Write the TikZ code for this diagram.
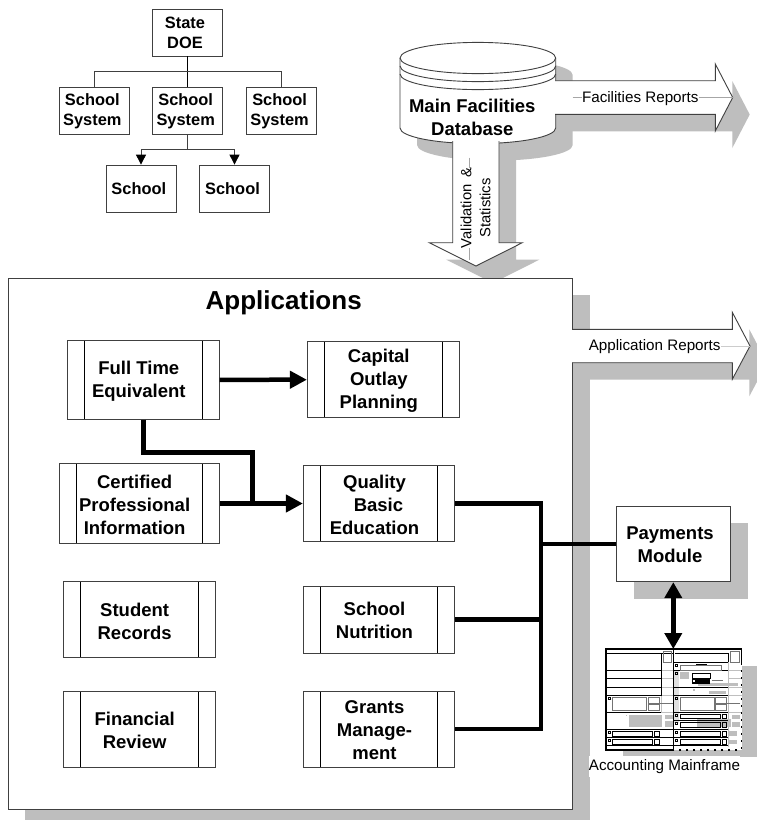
\documentclass[tikz,border=0pt]{standalone}
\usepackage{fontspec}
\setmainfont{Liberation Sans}
\usetikzlibrary{arrows.meta}
\definecolor{dropgrey}{HTML}{BEBEBE}
\definecolor{edge}{HTML}{404040}
\newcommand{\cylbody}{(400,58) -- (400,128) .. controls (400,136.6) and (434.8,143.6) .. (477.85,143.6) .. controls (520.9,143.6) and (555.7,136.6) .. (555.7,128) -- (555.7,58) .. controls (555.7,49.4) and (520.9,42.4) .. (477.85,42.4) .. controls (434.8,42.4) and (400,49.4) .. (400,58) -- cycle}
\newcommand{\rarrow}{(555,80.7) -- (715.3,80.7) -- (715.3,64) -- (732.7,97.5) -- (715.3,131) -- (715.3,114.3) -- (555,114.3)}
\newcommand{\darrow}{(452.7,141) -- (452.7,242.7) -- (429.3,242.7) -- (476,266) -- (522.3,242.7) -- (499,242.7) -- (499,141)}
\newcommand{\aarrow}{(572,329.3) -- (732.3,329.3) -- (732.3,312.3) -- (750,346) -- (732.3,379.3) -- (732.3,362.7) -- (572,362.7)}
\tikzset{
  x=1pt,y=-1pt,
  orgbox/.style={draw=edge,line width=.8pt,fill=white,inner sep=0pt,minimum width=70pt,minimum height=47pt},
  orglab/.style={align=center,inner sep=0pt,font=\fontsize{16.4}{20}\bfseries\selectfont},
  thin line/.style={draw=edge,line width=.9pt},
  proc/.style={draw=edge,line width=.8pt,fill=white,inner sep=0pt,
    path picture={
      \draw[black,line width=.9pt] ([xshift=17pt]path picture bounding box.north west) -- ([xshift=17pt]path picture bounding box.south west);
      \draw[black,line width=.9pt] ([xshift=-17pt]path picture bounding box.north east) -- ([xshift=-17pt]path picture bounding box.south east);}},
  lab/.style={align=center,inner sep=0pt,font=\fontsize{18.5}{23}\bfseries\selectfont},
  plab/.style={lab,xshift=-4.5pt,yshift=-1.2pt},
  rep/.style={align=center,inner sep=0pt,font=\fontsize{15.2}{19}\selectfont},
  conn/.style={line width=4.5pt,black,line join=miter},
  mf/.style={line width=.9pt,black},
  mfg/.style={line width=.8pt,black!55},
  mfl/.style={line width=.8pt,black!25},
  mfs/.style={fill=dropgrey,draw=none},
}
\begin{document}
\begin{tikzpicture}
\useasboundingbox (0,0) rectangle (757,820);
\clip (0,0) rectangle (757,820);
\fill[white] (0,0) rectangle (757,820);

% org chart
\node[orgbox] (doe) at (187.5,32.5) {};
\node[orglab] (doet) at (185,33) {State\\DOE};
\node[orgbox] (ssl) at (94.25,111) {};
\node[orglab] (sslt) at (92.3,111) {School\\System};
\node[orgbox] (ssm) at (187.5,111) {};
\node[orglab] (ssmt) at (185.7,111) {School\\System};
\node[orgbox] (ssr) at (281.5,111) {};
\node[orglab] (ssrt) at (279.6,111) {School\\System};
\node[orgbox] (sa) at (141,188.5) {};
\node[orglab] (sat) at (138.8,188.5) {School};
\node[orgbox] (sb) at (234.5,188.5) {};
\node[orglab] (sbt) at (232.5,188.5) {School};
\coordinate (busa) at (187.5,71.5);
\coordinate (busb) at (187.5,149.5);
\draw[thin line,black] (doe.south) -- (ssm.north);
\draw[thin line] (ssl.north) |- (busa);
\draw[thin line] (ssr.north) |- (busa);
\draw[thin line] (ssm.south) -- (busb);
\draw[thin line,-{Triangle[length=10pt,width=10pt,black]}] (busb) -| (sa.north);
\draw[thin line,-{Triangle[length=10pt,width=10pt,black]}] (busb) -| (sb.north);

% drop shadows
\begin{scope}[shift={(17,17)}]
  \fill[dropgrey] \cylbody;
  \fill[dropgrey] \rarrow -- cycle;
  \fill[dropgrey] \darrow -- cycle;
  \fill[dropgrey] \aarrow -- cycle;
\end{scope}
\fill[dropgrey] (25,295) rectangle (590,820);
\fill[dropgrey] (633.7,523) rectangle (747.7,598.7);
\fill[dropgrey] (623.3,666) rectangle (757,757);

% applications frame
\node[draw=edge,line width=.9pt,fill=white,inner sep=0pt,minimum width=564.2pt,minimum height=530.4pt] (apps) at (290.6,543.8) {};
\node[inner sep=0pt,font=\fontsize{26}{30}\bfseries\selectfont] (appst) at (283.7,303) {Applications};

% database
\filldraw[fill=white,draw=edge,line width=.9pt] \cylbody;
\draw[edge,line width=.9pt] (400,58) .. controls (400,66.6) and (434.8,73.6) .. (477.85,73.6) .. controls (520.9,73.6) and (555.7,66.6) .. (555.7,58);
\draw[edge,line width=.9pt] (400,66) .. controls (400,74.6) and (434.8,81.6) .. (477.85,81.6) .. controls (520.9,81.6) and (555.7,74.6) .. (555.7,66);
\draw[edge,line width=.9pt] (400,74) .. controls (400,82.6) and (434.8,89.6) .. (477.85,89.6) .. controls (520.9,89.6) and (555.7,82.6) .. (555.7,74);
\node[lab] (db) at (472.3,117.3) {Main Facilities\\Database};

% block arrows
\fill[white] \rarrow -- cycle;
\draw[edge,line width=.9pt] \rarrow;
\fill[white] \darrow -- cycle;
\draw[edge,line width=.9pt] \darrow;
\fill[white] \aarrow -- cycle;
\draw[edge,line width=.9pt] \aarrow;
\coordinate (fa) at (572.7,97.5);
\coordinate (fb) at (732.7,97.5);
\coordinate (va) at (469.3,157.7);
\coordinate (vb) at (469.3,260);
\coordinate (aa) at (590,346);
\coordinate (ab) at (750,346);
\draw[black!35,line width=.7pt] (fa) -- (fb);
\draw[black!35,line width=.7pt] (va) -- (vb);
\draw[black!20,line width=.7pt] (aa) -- (ab);
\node[rep,fill=white] (frep) at (640.3,98.3) {Facilities Reports};
\node[rep,fill=white,rotate=90,font=\fontsize{14.8}{19}\selectfont] (vrep) at (475.5,208) {Validation \,\&\\Statistics};
\node[rep,fill=white] (arep) at (654.7,346.7) {Application Reports};

% processes
\node[proc,minimum width=152pt,minimum height=79pt,label={[plab]center:Full Time\\Equivalent}] (fte) at (143.3,379.8) {};
\node[proc,minimum width=152pt,minimum height=76pt,label={[plab]center:Capital\\Outlay\\Planning}] (cap) at (383.3,379.7) {};
\node[proc,minimum width=160.3pt,minimum height=79.6pt,label={[plab]center:Certified\\Professional\\Information}] (cert) at (139.15,503.5) {};
\node[proc,minimum width=151.4pt,minimum height=75.6pt,label={[plab]center:Quality\\\hspace*{8pt}Basic\\Education}] (qbe) at (379,503.5) {};
\node[proc,minimum width=151.7pt,minimum height=76pt,label={[plab]center:Student\\Records}] (stu) at (139.15,619.7) {};
\node[proc,minimum width=151.4pt,minimum height=67.3pt,label={[plab]center:School\\Nutrition}] (nut) at (379,619.65) {};
\node[proc,minimum width=151.7pt,minimum height=76.3pt,label={[plab]center:Financial\\Review}] (fin) at (139.15,729.15) {};
\node[proc,minimum width=151.4pt,minimum height=76.3pt,label={[plab]center:Grants\\Manage-\\ment}] (gra) at (379,729.15) {};

% payments
\node[draw=edge,line width=.9pt,fill=white,inner sep=0pt,minimum width=114pt,minimum height=75.7pt] (pay) at (673.7,543.85) {};
\node[lab] (payt) at (670,545) {Payments\\Module};

% thick connectors
\coordinate (bend) at (252.7,452.7);
\coordinate (join) at (252.7,503.5);
\coordinate (bust) at (541,503.5);
\coordinate (busm) at (541,619.65);
\coordinate (busl) at (541,729.15);
\coordinate (busp) at (541,543.85);
\coordinate (mftop) at (673.3,649);
\draw[conn,-{Triangle[length=17pt,width=17pt]}] (fte.east) -- (cap.west);
\draw[conn,-{Triangle[length=17pt,width=17pt]}] (cert.east) -- (qbe.west);
\draw[conn] (fte.south) |- (bend) -- (join);
\draw[conn] (qbe.east) -- (bust) -- (busl) -- (gra.east);
\draw[conn] (nut.east) -- (busm);
\draw[conn] (pay.west) -- (busp);

% mainframe
\begin{scope}[shift={(560,490)},x=.33333pt,y=-.33333pt]
  \fill[white] (138,477) rectangle (545,780);
  \fill[mfs] (208,674) rectangle (305,710);
  \fill[mfs] (316,674) rectangle (340,688);
  \fill[mfs] (316,694) rectangle (340,710);
  \fill[mfs] (197,674) rectangle (202,679);
  \fill[mfs] (360,545) rectangle (386,566);
  \fill[mfs] (415,579) rectangle (535,588);
  \fill[mfs] (398,598) rectangle (404,604);
  \fill[mfs] (448,602) rectangle (498,612);
  \fill[mfs] (410,688) rectangle (512,710);
  \fill[mfs] (517,674) rectangle (540,686);
  \fill[mfs] (517,696) rectangle (540,710);
  \fill[mfs] (505,724) rectangle (532,738);
  \fill[mfs] (505,749) rectangle (532,762);
  \fill[black!12] (342,540) rectangle (356,700);
  \foreach \yy in {541,566,592,617,667} {
    \draw[mfl] (304,\yy) -- (340,\yy);
    \draw[mfl] (505,\yy) -- (545,\yy);
  }
  \draw[mfl] (304,490) -- (304,668);
  \draw[mfl] (505,516) -- (505,770);
  \draw[mfg] (265,641) -- (340,641);
  \draw[mfg] (466,641) -- (540,641);
  \draw[mfg] (455,570) -- (490,570);
  \draw[mf] (138,490) -- (340,490);
  \draw[mf] (304,490) -- (304,617);
  \foreach \yy in {541,566,592,617,667} { \draw[mf] (138,\yy) -- (304,\yy); }
  \foreach \yy in {717,742,766} { \draw[mf] (138,\yy) -- (340,\yy); }
  \draw[mfg] (309,484) rectangle (335,516);
  \draw[mf] (145,622) rectangle (151,628);
  \draw[mfg] (157,622) rectangle (260,660);
  \draw[mfg] (265,622) rectangle (297,640);
  \draw[mfg] (265,642) rectangle (297,660);
  \draw[mf] (145,724) rectangle (151,730);
  \draw[mf] (156,724) rectangle (278,738);
  \draw[mf] (283,724) rectangle (298,738);
  \draw[mf] (145,749) rectangle (151,755);
  \draw[mf] (156,749) rectangle (278,762);
  \draw[mf] (283,749) rectangle (298,762);
  \draw[mf] (345,490) -- (505,490);
  \draw[mf] (505,490) -- (505,516);
  \draw[mfg] (511,484) rectangle (537,516);
  \foreach \yy in {516,541,592,617,667,692,717,742,766} { \draw[mf] (340,\yy) -- (505,\yy); }
  \draw[mf] (345,522) rectangle (351,528);
  \draw[mfg] (362,527) rectangle (485,540);
  \draw[line width=1.6pt,black] (408,523) -- (442,523);
  \draw[mf] (346,548) rectangle (352,554);
  \draw[mf] (396,549) rectangle (450,564);
  \fill[black] (396,567) rectangle (450,581);
  \fill[white] (400,571) rectangle (406,577);
  \draw[mf] (346,623) rectangle (352,629);
  \draw[mfg] (360,622) rectangle (462,660);
  \draw[mfg] (466,622) rectangle (500,640);
  \draw[mfg] (466,642) rectangle (500,660);
  \foreach \yy in {672,698,724,749} {
    \draw[mf] (346,\yy) rectangle (352,\yy+6);
    \draw[mf] (360,\yy) rectangle (482,\yy+14);
    \draw[mf] (487,\yy) rectangle (500,\yy+14);
  }
  \draw[line width=1.3pt,black] (545,520) -- (545,477) -- (138,477) -- (138,780) -- (340,780);
  \draw[line width=1.3pt,black,dash pattern=on 2pt off 5pt] (545,520) -- (545,780) -- (340,780);
  \draw[line width=1.4pt,black] (340,477) -- (340,780);
\end{scope}
\draw[conn,{Triangle[length=16pt,width=17pt]}-{Triangle[length=16pt,width=17pt]}] (pay.south -| mftop) -- (mftop);
\node[rep,fill=white,minimum width=151pt,minimum height=21pt,inner sep=0pt] (acc) at (664.5,766.3) {\raisebox{-1pt}{Accounting Mainframe}};
\end{tikzpicture}
\end{document}
